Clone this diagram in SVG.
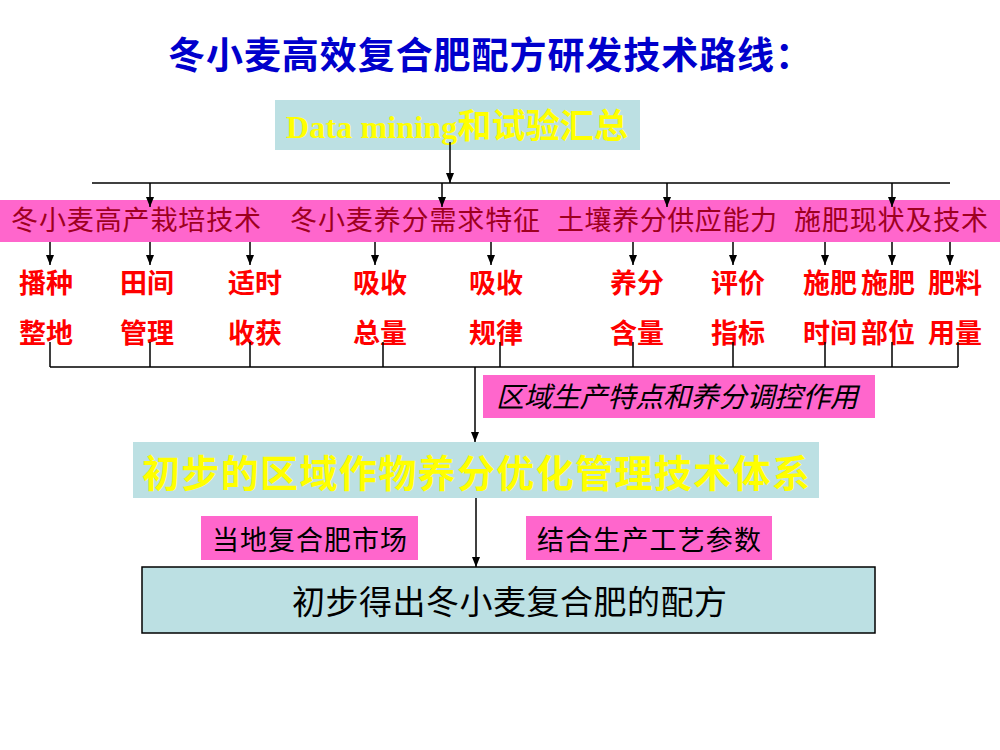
<svg xmlns="http://www.w3.org/2000/svg" width="1000" height="750" viewBox="0 0 1000 750">
<defs>
<marker id="arr" markerUnits="userSpaceOnUse" markerWidth="10" markerHeight="10" viewBox="0 0 10 10" refX="10" refY="5" orient="auto">
<path d="M0,1 L10,5 L0,9 Z" fill="#000"/>
</marker>
<style>
.cjk{font-family:"Noto Sans CJK SC","Noto Sans",sans-serif;}
.title{font-size:37px;font-weight:bold;fill:#0000CC;}
.band{font-size:27px;fill:#9E0020;}
.red{font-size:27px;font-weight:bold;fill:#FF0000;text-anchor:middle;}
.teal{fill:#BCE0E3;}
.pink{fill:#FF66CC;}
.ln{stroke:#000;stroke-width:1.5;fill:none;}
.ar{stroke:#000;stroke-width:1.5;fill:none;marker-end:url(#arr);}
</style>
</defs>
<rect width="1000" height="750" fill="#fff"/>

<text class="cjk title" x="168" y="69" textLength="644">冬小麦高效复合肥配方研发技术路线：</text>

<g id="node-datamining">
<rect class="teal" x="275" y="100" width="365" height="50"/>
<text x="286" y="138" font-size="32" font-weight="bold" fill="#FFFF00" font-family="'Liberation Serif','Noto Sans CJK SC',serif" textLength="342">Data mining<tspan font-family="'Noto Sans CJK SC',sans-serif" font-size="34">和试验汇总</tspan></text>
</g>

<g id="node-band">
<rect class="pink" x="0" y="200" width="1000" height="42"/>
<text class="cjk band" x="11" y="230" textLength="250">冬小麦高产栽培技术</text>
<text class="cjk band" x="290" y="230" textLength="250">冬小麦养分需求特征</text>
<text class="cjk band" x="557" y="230" textLength="220">土壤养分供应能力</text>
<text class="cjk band" x="794" y="230" textLength="194">施肥现状及技术</text>
</g>

<g id="node-subitems">
<text class="cjk red" x="46" y="293">播种</text><text class="cjk red" x="46" y="343">整地</text>
<text class="cjk red" x="147" y="293">田间</text><text class="cjk red" x="147" y="343">管理</text>
<text class="cjk red" x="255" y="293">适时</text><text class="cjk red" x="255" y="343">收获</text>
<text class="cjk red" x="380" y="293">吸收</text><text class="cjk red" x="380" y="343">总量</text>
<text class="cjk red" x="496" y="293">吸收</text><text class="cjk red" x="496" y="343">规律</text>
<text class="cjk red" x="637" y="293">养分</text><text class="cjk red" x="637" y="343">含量</text>
<text class="cjk red" x="738" y="293">评价</text><text class="cjk red" x="738" y="343">指标</text>
<text class="cjk red" x="830" y="293">施肥</text><text class="cjk red" x="830" y="343">时间</text>
<text class="cjk red" x="888" y="293">施肥</text><text class="cjk red" x="888" y="343">部位</text>
<text class="cjk red" x="955" y="293">肥料</text><text class="cjk red" x="955" y="343">用量</text>
</g>

<g id="node-regional">
<rect class="pink" x="483" y="375" width="392" height="43"/>
<text class="cjk" x="496" y="407" font-size="28" font-style="italic" fill="#000" textLength="362">区域生产特点和养分调控作用</text>
</g>

<g id="node-system">
<rect class="teal" x="133" y="442" width="686" height="56"/>
<text class="cjk" x="142" y="487" font-size="38" font-weight="bold" fill="#FFFF00" textLength="668">初步的区域作物养分优化管理技术体系</text>
</g>

<g id="node-market">
<rect class="pink" x="201" y="516" width="217" height="44"/>
<text class="cjk" x="212" y="550" font-size="27" fill="#000" textLength="195">当地复合肥市场</text>
</g>

<g id="node-process">
<rect class="pink" x="526" y="516" width="246" height="44"/>
<text class="cjk" x="537" y="550" font-size="27" fill="#000" textLength="224">结合生产工艺参数</text>
</g>

<g id="node-final">
<rect class="teal" x="142" y="567" width="733" height="66" stroke="#000" stroke-width="1.5"/>
<text class="cjk" x="292" y="614" font-size="33" fill="#000" textLength="435">初步得出冬小麦复合肥的配方</text>
</g>

<g id="connectors">
<line class="ar" x1="450" y1="142" x2="450" y2="183"/>
<line class="ln" x1="92" y1="183" x2="950" y2="183"/>
<line class="ar" x1="150" y1="183" x2="150" y2="207"/>
<line class="ar" x1="442" y1="183" x2="442" y2="207"/>
<line class="ar" x1="667" y1="183" x2="667" y2="207"/>
<line class="ar" x1="892" y1="183" x2="892" y2="207"/>
<line class="ar" x1="50" y1="242" x2="50" y2="265"/>
<line class="ar" x1="150" y1="242" x2="150" y2="265"/>
<line class="ar" x1="250" y1="242" x2="250" y2="265"/>
<line class="ar" x1="375" y1="242" x2="375" y2="265"/>
<line class="ar" x1="491" y1="242" x2="491" y2="265"/>
<line class="ar" x1="633" y1="242" x2="633" y2="265"/>
<line class="ar" x1="733" y1="242" x2="733" y2="265"/>
<line class="ar" x1="825" y1="242" x2="825" y2="265"/>
<line class="ar" x1="892" y1="242" x2="892" y2="265"/>
<line class="ar" x1="950" y1="242" x2="950" y2="265"/>
<path class="ln" d="M50,342 V367 M150,342 V367 M250,342 V367 M383,342 V367 M500,342 V367 M633,342 V367 M733,342 V367 M825,342 V367 M892,342 V367 M958,342 V367 M50,367 H958"/>
<line class="ar" x1="475" y1="367" x2="475" y2="442"/>
<line class="ar" x1="476" y1="498" x2="476" y2="567"/>
</g>
</svg>
